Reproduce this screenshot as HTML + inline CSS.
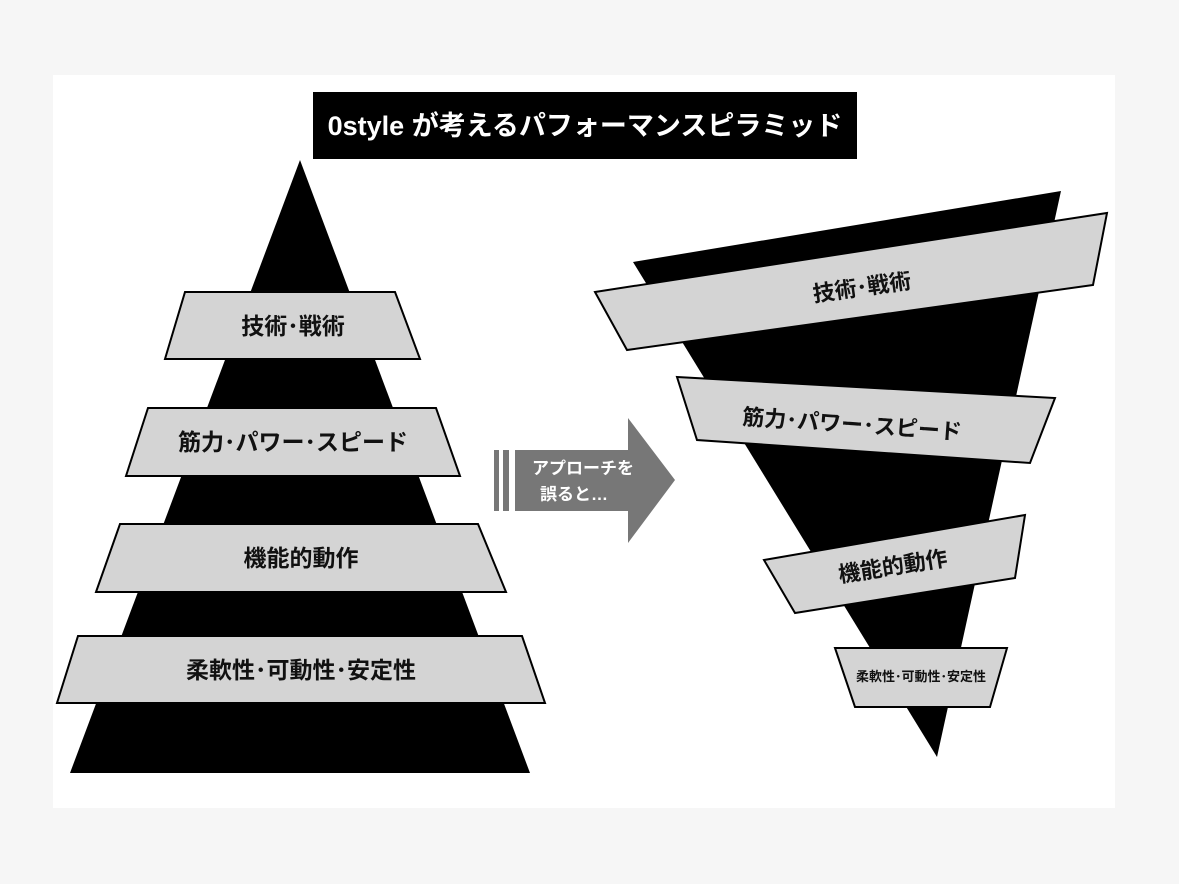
<!DOCTYPE html>
<html><head><meta charset="utf-8"><style>
body{margin:0;background:#f6f6f6;}
svg{display:block}
text{font-family:"Liberation Sans","Noto Sans CJK JP",sans-serif;font-weight:bold;}
</style></head><body>
<svg width="1179" height="884" viewBox="0 0 1179 884">
<rect x="0" y="0" width="1179" height="884" fill="#f6f6f6"/>
<rect x="53" y="75" width="1062" height="733" fill="#fff"/>
<rect x="313" y="92" width="544" height="67" fill="#000"/>
<text x="585" y="135" font-size="27" fill="#fff" text-anchor="middle">0style が考えるパフォーマンスピラミッド</text>

<polygon points="300,160 530,773 70,773" fill="#000"/>
<g fill="#d4d4d4" stroke="#000" stroke-width="2">
<polygon points="185,292 395,292 420,359 165,359"/>
<polygon points="148,408 436,408 460,476 126,476"/>
<polygon points="120,524 478,524 506,592 96,592"/>
<polygon points="78,636 522,636 545,703 57,703"/>
</g>
<g font-size="23" fill="#111" text-anchor="middle">
<text x="293" y="334">技術･戦術</text>
<text x="293" y="450">筋力･パワー･スピード</text>
<text x="301" y="566">機能的動作</text>
<text x="301" y="678">柔軟性･可動性･安定性</text>
</g>

<g fill="#777">
<rect x="494" y="450" width="5" height="61"/>
<rect x="503" y="450" width="6" height="61"/>
<polygon points="515,450 628,450 628,418 675,480 628,543 628,511 515,511"/>
</g>
<g font-size="17" fill="#fff" text-anchor="middle">
<text x="583" y="474">アプローチを</text>
<text x="574" y="500">誤ると…</text>
</g>

<polygon points="633,262 1061,191 937,757" fill="#000"/>
<g fill="#d4d4d4" stroke="#000" stroke-width="2">
<polygon points="595,292 1107,213 1093,285 627,350"/>
<polygon points="677,377 1055,398 1030,463 697,440"/>
<polygon points="764,560 1025,515 1015,578 795,613"/>
<polygon points="835,648 1007,648 990,707 855,707"/>
</g>
<g font-size="22" fill="#111" text-anchor="middle">
<text x="862" y="295" transform="rotate(-8 862 288)">技術･戦術</text>
<text x="852" y="432" transform="rotate(4 852 425)">筋力･パワー･スピード</text>
<text x="893" y="574" transform="rotate(-9 893 567)">機能的動作</text>
<text x="921" y="681" font-size="13">柔軟性･可動性･安定性</text>
</g>
</svg>
</body></html>
